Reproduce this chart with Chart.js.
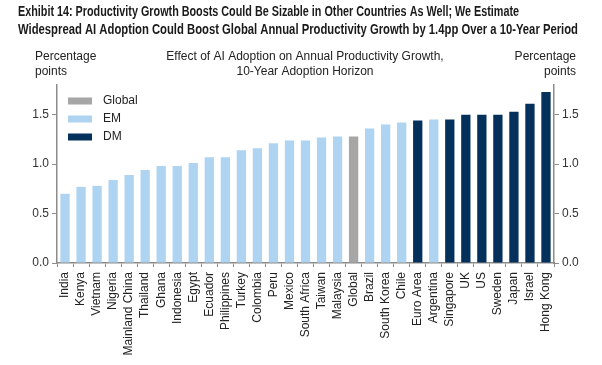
<!DOCTYPE html>
<html>
<head>
<meta charset="utf-8">
<script src="https://cdn.jsdelivr.net/npm/chart.js@4"></script>
<style>
  html, body { margin: 0; padding: 0; background: #fff; }
  #wrap { width: 602px; height: 365px; position: relative; }
</style>
</head>
<body>
<div id="wrap"><canvas id="myChart" width="602" height="365"></canvas></div>
<script>
const countries = ["India", "Kenya", "Vietnam", "Nigeria", "Mainland China", "Thailand", "Ghana", "Indonesia",
  "Egypt", "Ecuador", "Philippines", "Turkey", "Colombia", "Peru", "Mexico", "South Africa", "Taiwan",
  "Malaysia", "Global", "Brazil", "South Korea", "Chile", "Euro Area", "Argentina", "Singapore", "UK",
  "US", "Sweden", "Japan", "Israel", "Hong Kong"];
const groups = ["EM", "EM", "EM", "EM", "EM", "EM", "EM", "EM",
  "EM", "EM", "EM", "EM", "EM", "EM", "EM", "EM", "EM",
  "EM", "Global", "EM", "EM", "EM", "DM", "EM", "DM", "DM",
  "DM", "DM", "DM", "DM", "DM"];
const values = [0.70, 0.77, 0.78, 0.84, 0.89, 0.94, 0.98, 0.98,
  1.01, 1.07, 1.07, 1.14, 1.16, 1.21, 1.24, 1.24, 1.27,
  1.28, 1.28, 1.36, 1.40, 1.42, 1.44, 1.45, 1.45, 1.50,
  1.50, 1.50, 1.53, 1.61, 1.73];
const yTicks = [0, 0.5, 1.0, 1.5];

const titleLines = [
  "Exhibit 14: Productivity Growth Boosts Could Be Sizable in Other Countries As Well; We Estimate",
  "Widespread AI Adoption Could Boost Global Annual Productivity Growth by 1.4pp Over a 10-Year Period"
];
const subLines = ["Effect of AI Adoption on Annual Productivity Growth,", "10-Year Adoption Horizon"];

const colors = { Global: '#a6a6a6', EM: '#aed4f2', DM: '#03315c' };
const groupNames = ["Global", "EM", "DM"];

const datasets = groupNames.map(g => ({
  label: g,
  data: values.map((v, i) => groups[i] === g ? v : null),
  backgroundColor: colors[g],
  barPercentage: 0.58,
  categoryPercentage: 1.0
}));

const axisGrey = '#8c8c8c';
const fontFam = 'Liberation Sans, Arial, sans-serif';

const keepTicks = scale => {
  scale.ticks = yTicks.map(v => ({ value: v }));
};

// squeeze a line horizontally to the width it has in the original (condensed face)
function narrowText(ctx, text, x, y, width) {
  const w = ctx.measureText(text).width;
  ctx.save();
  ctx.translate(x, y);
  ctx.scale(width / w, 1);
  ctx.fillText(text, 0, 0);
  ctx.restore();
}

const textPlugin = {
  id: 'texts',
  afterDraw(chart) {
    const ctx = chart.ctx;
    ctx.save();
    ctx.fillStyle = '#1a1a1a';
    ctx.textBaseline = 'middle';
    ctx.font = 'bold 14px "Liberation Sans", sans-serif';
    ctx.textAlign = 'left';
    narrowText(ctx, titleLines[0], 18, 12, 501);
    narrowText(ctx, titleLines[1], 18, 30, 560);

    ctx.font = '12px ' + fontFam;
    ctx.fillStyle = '#222';
    ctx.textAlign = 'center';
    ctx.fillText(subLines[0], 305, 57);
    ctx.fillText(subLines[1], 305, 72);
    ctx.textAlign = 'left';
    ctx.fillText('Percentage', 35, 57);
    ctx.fillText('points', 35, 72);
    ctx.textAlign = 'right';
    ctx.fillText('Percentage', 576, 57);
    ctx.fillText('points', 576, 72);

    // legend
    ctx.textAlign = 'left';
    groupNames.forEach((g, i) => {
      const y = 101 + i * 18;
      ctx.fillStyle = colors[g];
      ctx.fillRect(68, y - 3.5, 24, 7);
      ctx.fillStyle = '#222';
      ctx.fillText(g, 103, y);
    });
    ctx.restore();
  }
};

new Chart(document.getElementById('myChart'), {
  type: 'bar',
  data: { labels: countries, datasets },
  plugins: [textPlugin],
  options: {
    responsive: false,
    animation: false,
    layout: { padding: { top: 85, left: 0, right: 0, bottom: 0 } },
    plugins: { legend: { display: false }, tooltip: { enabled: false }, title: { display: false } },
    scales: {
      x: {
        stacked: true,
        afterFit: s => { s.height = 102; },
        grid: { drawOnChartArea: false, color: axisGrey, tickLength: 4, lineWidth: 1 },
        border: { color: axisGrey, width: 1.5 },
        ticks: { autoSkip: false, minRotation: 90, maxRotation: 90, color: '#222', padding: 5,
          font: { family: fontFam, size: 12 } }
      },
      y: {
        position: 'left',
        min: 0, max: 1.8,
        afterBuildTicks: keepTicks,
        afterFit: s => { s.width = 57; },
        grid: { drawOnChartArea: false, color: axisGrey, tickLength: 5 },
        border: { color: axisGrey, width: 1.5 },
        ticks: { color: '#333', padding: 3, font: { family: fontFam, size: 12 },
          callback: v => v.toFixed(1) }
      },
      y2: {
        position: 'right',
        min: 0, max: 1.8,
        afterBuildTicks: keepTicks,
        afterFit: s => { s.width = 48; },
        grid: { drawOnChartArea: false, color: axisGrey, tickLength: 5 },
        border: { color: axisGrey, width: 1.5 },
        ticks: { color: '#333', padding: 3, font: { family: fontFam, size: 12 },
          callback: v => v.toFixed(1) }
      }
    }
  }
});
</script>
</body>
</html>
